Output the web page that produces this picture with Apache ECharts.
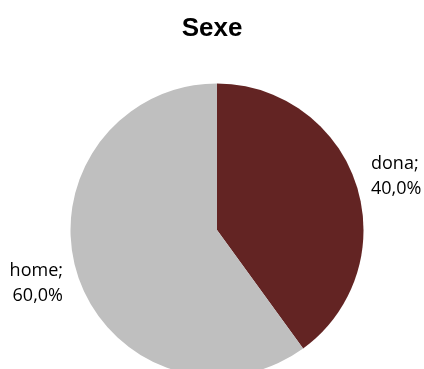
<!DOCTYPE html>
<html>
<head>
<meta charset="utf-8">
<script src="https://cdn.jsdelivr.net/npm/echarts@6/dist/echarts.min.js"></script>
<style>html,body{margin:0;padding:0;background:#fff}#c{width:424px;height:369px}</style>
</head>
<body>
<div id="c"></div>
<script>
var titleText = 'Sexe';
var categories = ['dona', 'home'];
var values = [40.0, 60.0];
var colors = ['#632423', '#BFBFBF'];

var chart = echarts.init(document.getElementById('c'), null, {renderer: 'canvas'});
chart.setOption({
  animation: false,
  backgroundColor: '#ffffff',
  title: {
    text: titleText,
    left: 'center',
    top: 11,
    textStyle: {fontFamily: 'Liberation Sans, Arial', fontWeight: 'bold', fontSize: 26, color: '#000'}
  },
  series: [{
    type: 'pie',
    center: [217, 230],
    radius: 146.5,
    startAngle: 90,
    clockwise: true,
    avoidLabelOverlap: false,
    emphasis: {disabled: true},
    data: categories.map(function (c, i) {
      return {name: c, value: values[i], itemStyle: {color: colors[i]}};
    }),
    label: {
      show: true,
      position: 'outside',
      distanceToLabelLine: -11,
      fontFamily: 'Open Sans',
      fontSize: 18,
      lineHeight: 25,
      color: '#000',
      formatter: function (p) {
        return p.name + ';\n' + p.value.toFixed(1).replace('.', ',') + '%';
      }
    },
    labelLine: {show: false, length: 27, length2: 0}
  }]
});
</script>
</body>
</html>
